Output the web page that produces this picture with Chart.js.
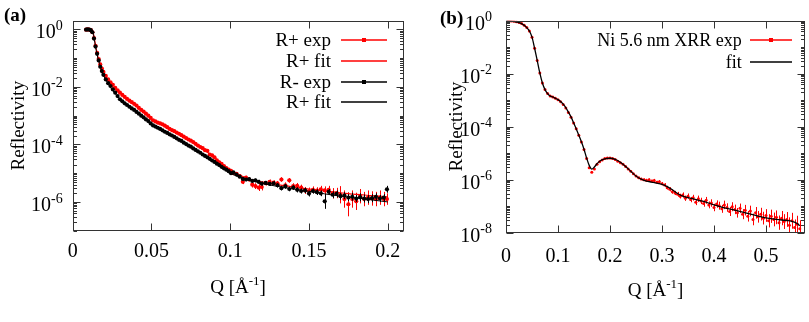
<!DOCTYPE html>
<html>
<head>
<meta charset="utf-8">
<script src="https://cdn.jsdelivr.net/npm/chart.js@4.4.1/dist/chart.umd.min.js"></script>
<style>
  html, body { margin: 0; padding: 0; background: #fff; }
  #wrap { position: relative; width: 809px; height: 322px; overflow: hidden; }
  canvas { position: absolute; top: 0; }
  .tag { position: absolute; font: bold 19px 'Liberation Serif', serif; color: #000; }
</style>
</head>
<body>
<div id="wrap">
  <canvas id="chartA" width="410" height="322" style="left:0"></canvas>
  <canvas id="chartB" width="399" height="322" style="left:410px"></canvas>
  <div class="tag" style="left:4px;top:4px">(a)</div>
  <div class="tag" style="left:440px;top:7px">(b)</div>
</div>
<script>
const SERIF = "'Liberation Serif', 'Times New Roman', serif";

// ---- panel (a): polarised reflectivity, Q in 1/A, values as log10(R) ----
const qA = [0.0085,0.0095,0.0105,0.0115,0.0125,0.0135,0.0145,0.0155,0.0165,0.0175,0.0185,0.0195,
  0.021,0.0225,0.024,0.0255,0.027,0.0285,0.030,0.0315,0.033,0.0345,
  0.036,0.0375,0.039,0.0405,0.042,0.0435,0.045,0.0465,0.048,0.0495,
  0.051,0.0525,0.054,0.0555,0.057,0.0585,0.060,0.0615,0.063,0.0645,
  0.066,0.0675,0.069,0.0705,0.072,0.0735,0.075,0.0765,0.078,0.0795,
  0.081,0.0825,0.084,0.0855,0.087,0.0885,0.090,0.0915,0.093,0.0945,
  0.096,0.0975,0.099,0.1005,
  0.102,0.104,0.106,0.108,0.110,0.112,0.114,0.116,0.118,0.120,
  0.1225,0.125,0.1275,0.130,0.1325,0.135,0.1375,0.140,0.1425,0.145,
  0.1475,0.150,0.1525,0.155,0.1575,0.160,0.1625,0.165,0.1675,0.170,
  0.1725,0.175,0.1775,0.180,0.1825,0.185,0.1875,0.190,0.1925,0.195,
  0.1975,0.1995];

const rPlusExp = [-0.01,0.0,-0.01,-0.03,-0.1,-0.3,-0.57,-0.82,-1.03,-1.22,-1.36,-1.48,
  -1.62,-1.74,-1.84,-1.93,-2.03,-2.12,-2.2,-2.28,-2.35,-2.42,
  -2.48,-2.53,-2.59,-2.65,-2.73,-2.8,-2.86,-2.93,-3.0,-3.08,
  -3.16,-3.2,-3.24,-3.27,-3.3,-3.35,-3.4,-3.46,-3.5,-3.54,
  -3.59,-3.63,-3.68,-3.73,-3.78,-3.83,-3.87,-3.92,-3.98,-4.04,
  -4.09,-4.13,-4.2,-4.22,-4.35,-4.38,-4.45,-4.55,-4.62,-4.68,
  -4.75,-4.82,-4.88,-4.92,
  -5.0,-5.02,-5.1,-5.3,-5.15,-5.22,-5.4,-5.45,-5.5,-5.48,
  -5.35,-5.3,-5.33,-5.35,-5.22,-5.42,-5.25,-5.45,-5.44,-5.5,
  -5.6,-5.62,-5.58,-5.61,-5.56,-5.6,-5.58,-5.7,-5.69,-5.75,
  -5.9,-6.08,-5.9,-5.98,-5.8,-5.9,-5.85,-5.88,-5.9,-5.85,
  -5.9,-5.9];

const rPlusErr = [0,0,0,0,0,0,0,0,0,0,0,0,
  0,0,0,0,0,0,0,0,0,0, 0,0,0,0,0,0,0,0,0,0, 0,0,0,0,0,0,0,0,0,0,
  0,0,0,0,0,0,0,0,0,0, 0,0,0,0,0,0,0,0,0,0, 0,0,0,0,
  0.05,0.05,0.06,0.08,0.06,0.07,0.1,0.1,0.12,0.12,
  0.08,0.08,0.08,0.08,0.08,0.1,0.08,0.1,0.1,0.1,
  0.12,0.12,0.12,0.12,0.12,0.14,0.14,0.18,0.18,0.3,
  0.3,0.42,0.3,0.3,0.25,0.25,0.25,0.25,0.25,0.25,
  0.25,0.2];

const rMinusExp = [-0.01,0.0,-0.01,-0.03,-0.1,-0.32,-0.6,-0.85,-1.08,-1.3,-1.45,-1.58,
  -1.74,-1.87,-1.97,-2.09,-2.2,-2.32,-2.43,-2.5,-2.57,-2.63,
  -2.69,-2.75,-2.8,-2.87,-2.93,-3.0,-3.06,-3.13,-3.19,-3.27,
  -3.34,-3.38,-3.42,-3.46,-3.51,-3.56,-3.6,-3.65,-3.69,-3.74,
  -3.79,-3.84,-3.88,-3.94,-3.99,-4.04,-4.08,-4.14,-4.19,-4.24,
  -4.29,-4.35,-4.4,-4.45,-4.5,-4.56,-4.61,-4.67,-4.72,-4.78,
  -4.83,-4.88,-4.93,-5.0,
  -4.97,-5.05,-5.12,-5.2,-5.22,-5.21,-5.27,-5.25,-5.3,-5.36,
  -5.34,-5.37,-5.35,-5.42,-5.52,-5.46,-5.55,-5.5,-5.58,-5.62,
  -5.6,-5.71,-5.62,-5.66,-5.7,-5.98,-5.65,-5.75,-5.72,-5.8,
  -5.78,-5.85,-5.82,-5.88,-5.84,-5.88,-5.9,-5.87,-5.82,-5.88,
  -5.85,-5.56];

const rMinusErr = [0,0,0,0,0,0,0,0,0,0,0,0,
  0,0,0,0,0,0,0,0,0,0, 0,0,0,0,0,0,0,0,0,0, 0,0,0,0,0,0,0,0,0,0,
  0,0,0,0,0,0,0,0,0,0, 0,0,0,0,0,0,0,0,0,0, 0,0,0,0,
  0.04,0.05,0.05,0.06,0.06,0.06,0.06,0.06,0.07,0.07,
  0.07,0.07,0.07,0.08,0.08,0.08,0.08,0.08,0.09,0.09,
  0.09,0.1,0.09,0.1,0.1,0.26,0.1,0.12,0.12,0.12,
  0.12,0.12,0.14,0.12,0.14,0.14,0.14,0.14,0.12,0.12,
  0.12,0.12];

const qFitA = [0.0085,0.01,0.012,0.013,0.014,0.015,0.016,0.018,0.02,0.022,0.025,0.03,0.035,0.04,
  0.045,0.05,0.055,0.06,0.065,0.07,0.075,0.08,0.085,0.09,0.095,0.1,0.11,0.12,0.13,0.14,
  0.15,0.16,0.17,0.18,0.19,0.2];
const rPlusFit = [-0.01,0.0,-0.05,-0.12,-0.4,-0.7,-0.95,-1.3,-1.56,-1.75,-1.98,-2.2,-2.44,-2.64,
  -2.86,-3.12,-3.27,-3.4,-3.55,-3.71,-3.87,-4.06,-4.25,-4.45,-4.68,-4.9,-5.16,-5.3,-5.4,-5.48,
  -5.55,-5.62,-5.68,-5.74,-5.78,-5.82];
const rMinusFit = [-0.01,0.0,-0.05,-0.12,-0.45,-0.75,-1.0,-1.36,-1.65,-1.85,-2.1,-2.42,-2.65,-2.84,
  -3.05,-3.32,-3.48,-3.6,-3.75,-3.9,-4.08,-4.26,-4.43,-4.61,-4.8,-5.0,-5.2,-5.35,-5.46,-5.55,
  -5.63,-5.72,-5.8,-5.86,-5.93,-6.0];

const xTicksA = [0, 0.05, 0.1, 0.15, 0.2];
const yTicksA = [1e-6, 1e-4, 1e-2, 1];

// ---- panel (b): Ni 5.6 nm XRR ----
const qB = [0.005,0.010,0.015,0.020,0.025,0.030,0.035,0.040,0.045,0.050,
  0.055,0.060,0.065,0.070,0.075,0.080,0.085,0.090,0.095,0.100,
  0.105,0.110,0.115,0.120,0.125,0.130,0.135,0.140,0.145,0.150,
  0.155,0.160,0.165,0.170,0.175,0.180,0.185,0.190,0.195,0.200,
  0.205,0.210,0.215,0.220,0.225,0.230,0.235,0.240,0.245,0.250,
  0.255,0.260,0.265,0.270,0.275,0.280,0.285,0.290,0.295,0.300,
  0.305,0.310,0.315,0.320,0.325,0.330,0.335,0.340,0.345,0.350,
  0.355,0.360,0.365,0.370,0.375,0.380,0.385,0.390,0.395,0.400,
  0.405,0.410,0.415,0.420,0.425,0.430,0.435,0.440,0.445,0.450,
  0.455,0.460,0.465,0.470,0.475,0.480,0.485,0.490,0.495,0.500,
  0.505,0.510,0.515,0.520,0.525,0.530,0.535,0.540,0.545,0.550,
  0.555,0.560,0.565];
const xrrExp = [0.0,-0.01,-0.02,-0.04,-0.07,-0.11,-0.17,-0.26,-0.39,-0.62,
  -1.04,-1.5,-1.97,-2.35,-2.6,-2.75,-2.84,-2.88,-2.93,-2.98,
  -3.06,-3.16,-3.29,-3.46,-3.64,-3.86,-4.08,-4.32,-4.58,-4.86,
  -5.2,-5.55,-5.72,-5.6,-5.42,-5.32,-5.26,-5.2,-5.18,-5.18,
  -5.2,-5.24,-5.3,-5.36,-5.42,-5.5,-5.6,-5.68,-5.78,-5.86,
  -5.93,-5.97,-6.0,-6.02,-6.0,-6.05,-6.03,-6.1,-6.08,-6.15,
  -6.2,-6.3,-6.36,-6.45,-6.5,-6.55,-6.62,-6.58,-6.7,-6.62,
  -6.75,-6.68,-6.85,-6.72,-6.8,-6.9,-6.78,-6.95,-6.88,-7.05,
  -6.92,-6.98,-7.1,-6.95,-7.05,-7.2,-7.02,-7.12,-7.25,-7.08,
  -7.3,-7.15,-7.38,-7.18,-7.5,-7.25,-7.4,-7.3,-7.45,-7.35,
  -7.55,-7.38,-7.5,-7.42,-7.62,-7.45,-7.58,-7.5,-7.72,-7.55,
  -7.8,-7.68,-7.85];
const xrrErr = [0,0,0,0,0,0,0,0,0,0, 0,0,0,0,0,0,0,0,0,0, 0,0,0,0,0,0,0,0,0,0,
  0,0,0,0,0,0,0,0,0,0, 0,0,0,0,0,0,0,0,0,0,
  0.04,0.04,0.05,0.05,0.05,0.05,0.06,0.06,0.06,0.06,
  0.07,0.07,0.08,0.08,0.08,0.09,0.09,0.1,0.1,0.1,
  0.1,0.11,0.11,0.12,0.12,0.12,0.13,0.13,0.14,0.14,
  0.14,0.15,0.15,0.16,0.16,0.17,0.17,0.18,0.18,0.18,
  0.19,0.2,0.2,0.2,0.22,0.22,0.22,0.24,0.24,0.24,
  0.25,0.25,0.26,0.26,0.27,0.27,0.28,0.28,0.3,0.3,
  0.3,0.32,0.32];

const qFitB = [0,0.01,0.02,0.03,0.04,0.045,0.05,0.055,0.06,0.065,
  0.07,0.075,0.08,0.085,0.09,0.095,0.10,0.105,0.11,0.115,
  0.12,0.125,0.13,0.135,0.14,0.145,0.15,0.155,0.16,0.165,
  0.17,0.175,0.18,0.19,0.20,0.21,0.22,0.23,0.24,0.25,
  0.26,0.27,0.28,0.29,0.30,0.31,0.32,0.33,0.34,0.35,
  0.36,0.38,0.40,0.42,0.44,0.46,0.48,0.50,0.52,0.54,
  0.55,0.56,0.565];
const xrrFit = [0.0,-0.02,-0.05,-0.11,-0.26,-0.39,-0.62,-1.04,-1.5,-1.97,
  -2.35,-2.6,-2.75,-2.84,-2.88,-2.93,-2.98,-3.05,-3.15,-3.28,
  -3.45,-3.63,-3.85,-4.08,-4.32,-4.57,-4.85,-5.18,-5.46,-5.6,
  -5.52,-5.4,-5.3,-5.21,-5.19,-5.23,-5.34,-5.5,-5.68,-5.86,
  -5.98,-6.05,-6.09,-6.13,-6.18,-6.26,-6.38,-6.52,-6.62,-6.68,
  -6.72,-6.82,-6.95,-7.06,-7.15,-7.25,-7.35,-7.44,-7.5,-7.54,
  -7.57,-7.65,-7.74];

const xTicksB = [0, 0.1, 0.2, 0.3, 0.4, 0.5];
const yTicksB = [1e-8, 1e-6, 1e-4, 1e-2, 1];

function toPoints(qs, logs) {
  return qs.map((q, i) => ({ x: q, y: Math.pow(10, logs[i]) }));
}

// text with superscript pieces, y is the baseline
function drawRich(ctx, parts, x, y, align, size) {
  const small = Math.round(size * 0.7);
  const widths = parts.map(([t, sup]) => {
    ctx.font = `${sup ? small : size}px ${SERIF}`;
    return ctx.measureText(t).width;
  });
  const total = widths.reduce((s, w) => s + w, 0);
  let cx = align === 'right' ? x - total : align === 'center' ? x - total / 2 : x;
  ctx.textAlign = 'left';
  ctx.textBaseline = 'alphabetic';
  parts.forEach(([t, sup], i) => {
    ctx.font = `${sup ? small : size}px ${SERIF}`;
    ctx.fillText(t, cx, sup ? y - size * 0.42 : y);
    cx += widths[i];
  });
}

const errorBars = {
  id: 'errorBars',
  beforeDatasetDraw(chart, args) {
    const ds = chart.data.datasets[args.index];
    if (!ds.errLog) return;
    const { ctx, chartArea: a, scales: { x, y } } = chart;
    ctx.save();
    ctx.beginPath();
    ctx.rect(a.left, a.top, a.width, a.height);
    ctx.clip();
    ctx.strokeStyle = ds.backgroundColor;
    ctx.lineWidth = 1;
    ds.data.forEach((p, i) => {
      const e = ds.errLog[i];
      if (!e) return;
      const px = Math.round(x.getPixelForValue(p.x)) + 0.5;
      const y1 = y.getPixelForValue(p.y * Math.pow(10, e));
      const y2 = y.getPixelForValue(p.y / Math.pow(10, e));
      ctx.beginPath();
      ctx.moveTo(px, y1); ctx.lineTo(px, y2);
      ctx.stroke();
    });
    ctx.restore();
  }
};

const frame = {
  id: 'frame',
  afterDatasetsDraw(chart) {
    const { ctx, chartArea: a, scales: { x, y } } = chart;
    const L = Math.round(a.left) + 0.5, R = Math.round(a.right) - 0.5;
    const T = Math.round(a.top) + 0.5, B = Math.round(a.bottom) - 0.5;
    ctx.save();
    ctx.strokeStyle = '#333';
    ctx.lineWidth = 1;
    const seg = (x1, y1, x2, y2) => { ctx.beginPath(); ctx.moveTo(x1, y1); ctx.lineTo(x2, y2); ctx.stroke(); };
    x.ticks.forEach(t => {
      const px = Math.round(x.getPixelForValue(t.value)) + 0.5;
      if (px <= L + 1 || px >= R - 1) return;
      seg(px, B, px, B - 7);
      seg(px, T, px, T + 7);
    });
    const e0 = Math.floor(Math.log10(y.min)), e1 = Math.ceil(Math.log10(y.max));
    const majors = y.ticks.map(t => Math.round(Math.log10(t.value)));
    for (let e = e0; e <= e1; e++) {
      for (let m = 1; m <= 9; m++) {
        const v = m * Math.pow(10, e);
        if (v < y.min * 0.999 || v > y.max * 1.001) continue;
        const py = Math.round(y.getPixelForValue(v)) + 0.5;
        const len = (m === 1 && majors.includes(e)) ? 7 : 3.5;
        seg(L, py, L + len, py);
        seg(R, py, R - len, py);
      }
    }
    ctx.strokeRect(L, T, R - L, B - T);
    ctx.restore();
  },
  afterDraw(chart, args, o) {
    const { ctx, chartArea: a, scales: { x, y } } = chart;
    ctx.save();
    ctx.fillStyle = '#000';
    x.ticks.forEach(t => {
      drawRich(ctx, [[String(t.value), false]], x.getPixelForValue(t.value), a.bottom + o.xLabelBase, 'center', o.tickSize);
    });
    y.ticks.forEach(t => {
      const ex = Math.round(Math.log10(t.value));
      drawRich(ctx, [['10', false], [String(ex), true]], a.left - o.yLabelGap,
        y.getPixelForValue(t.value) + o.yLabelShift, 'right', o.tickSize);
    });
    drawRich(ctx, [['Q [Å', false], ['-1', true], [']', false]], (a.left + a.right) / 2,
      a.bottom + o.xTitleBase, 'center', 19);
    ctx.restore();
  }
};

const sideLegend = {
  id: 'sideLegend',
  afterDraw(chart, args, o) {
    const ctx = chart.ctx;
    ctx.save();
    chart.data.datasets.forEach((ds, i) => {
      const y = Math.round(o.top + i * o.step);
      ctx.font = `${o.size}px ${SERIF}`;
      ctx.fillStyle = '#000';
      ctx.textAlign = 'right';
      ctx.textBaseline = 'middle';
      ctx.fillText(ds.label, o.textRight, y + 1);
      const c = ds.legendColor;
      ctx.strokeStyle = c;
      ctx.lineWidth = 1.6;
      ctx.beginPath(); ctx.moveTo(o.x1, y); ctx.lineTo(o.x2, y); ctx.stroke();
      if (!ds.showLine) {
        ctx.fillStyle = c;
        ctx.fillRect((o.x1 + o.x2) / 2 - 2, y - 2, 4, 4);
      }
    });
    ctx.restore();
  }
};

function buildOptions(o) {
  return {
    responsive: false,
    animation: false,
    layout: { padding: { left: 0, right: o.padRight, top: o.padTop, bottom: 0 } },
    plugins: {
      legend: { display: false },
      tooltip: { enabled: false },
      sideLegend: o.legend,
      frame: o.frame
    },
    scales: {
      x: {
        type: 'linear', min: o.xMin, max: o.xMax,
        afterBuildTicks: s => { s.ticks = o.xTicks.map(v => ({ value: v })); },
        afterFit: s => { s.height = o.xHeight; },
        ticks: { display: false },
        grid: { display: false },
        border: { display: false }
      },
      y: {
        type: 'logarithmic', min: o.yMin, max: o.yMax,
        afterBuildTicks: s => { s.ticks = o.yTicks.map(v => ({ value: v })); },
        afterFit: s => { s.width = o.yWidth; },
        ticks: { display: false },
        grid: { display: false },
        border: { display: false },
        title: {
          display: true, text: 'Reflectivity', color: '#000',
          font: { family: SERIF, size: 19 },
          padding: { top: o.yTitlePad, bottom: 0 }
        }
      }
    }
  };
}

new Chart(document.getElementById('chartA'), {
  type: 'scatter',
  data: {
    datasets: [
      { label: 'R+ exp', data: toPoints(qA, rPlusExp), errLog: rPlusErr, order: 3, legendColor: '#ff0000',
        backgroundColor: '#ff0000', borderColor: '#ff0000', pointRadius: 2.1, borderWidth: 0, showLine: false },
      { label: 'R+ fit', data: toPoints(qFitA, rPlusFit), order: 2, showLine: true, legendColor: '#ff0000',
        borderColor: '#ff0000', backgroundColor: '#ff0000', borderWidth: 1.2, pointRadius: 0, cubicInterpolationMode: 'monotone' },
      { label: 'R- exp', data: toPoints(qA, rMinusExp), errLog: rMinusErr, order: 1, legendColor: '#000000',
        backgroundColor: '#000000', borderColor: '#000000', pointRadius: 2.1, borderWidth: 0, showLine: false },
      { label: 'R+ fit', data: toPoints(qFitA, rMinusFit), order: 0, showLine: true, legendColor: '#000000',
        borderColor: '#000000', backgroundColor: '#000000', borderWidth: 1, pointRadius: 0, cubicInterpolationMode: 'monotone' }
    ]
  },
  options: buildOptions({
    padRight: 6.5, padTop: 20.7, xHeight: 91.3, yWidth: 72.7, yTitlePad: 7.3,
    xMin: 0, xMax: 0.21, yMin: 1e-7, yMax: 2, xTicks: xTicksA, yTicks: yTicksA,
    legend: { textRight: 331, x1: 341, x2: 387, top: 40, step: 20.8, size: 19 },
    frame: { xLabelBase: 26, yLabelGap: 10, yLabelShift: 9, xTitleBase: 62.5, tickSize: 20 }
  }),
  plugins: [errorBars, frame, sideLegend]
});

new Chart(document.getElementById('chartB'), {
  type: 'scatter',
  data: {
    datasets: [
      { label: 'Ni 5.6 nm XRR exp', data: toPoints(qB, xrrExp), errLog: xrrErr, order: 1, legendColor: '#ff0000',
        backgroundColor: '#ff0000', borderColor: '#ff0000', pointRadius: 1.5, borderWidth: 0, showLine: false },
      { label: 'fit', data: toPoints(qFitB, xrrFit), order: 0, showLine: true, legendColor: '#000000',
        borderColor: '#000000', backgroundColor: '#000000', borderWidth: 1.3, pointRadius: 0, cubicInterpolationMode: 'monotone' }
    ]
  },
  options: buildOptions({
    padRight: 3, padTop: 20.7, xHeight: 89.3, yWidth: 96, yTitlePad: 35.3,
    xMin: 0, xMax: 0.575, yMin: 1e-8, yMax: 1, xTicks: xTicksB, yTicks: yTicksB,
    legend: { textRight: 331.7, x1: 340, x2: 382, top: 40, step: 21.7, size: 18 },
    frame: { xLabelBase: 29, yLabelGap: 14, yLabelShift: 9, xTitleBase: 63.3, tickSize: 20 }
  }),
  plugins: [errorBars, frame, sideLegend]
});
</script>
</body>
</html>
